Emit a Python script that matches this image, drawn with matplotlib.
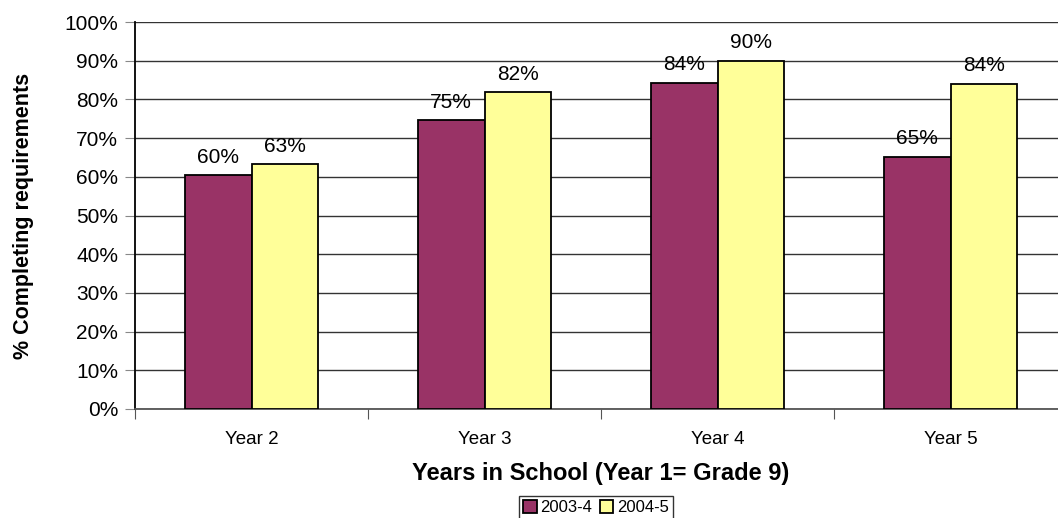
import numpy as np
import matplotlib
matplotlib.use("Agg")
import matplotlib.pyplot as plt
from matplotlib.ticker import PercentFormatter

# values
years = ["Year 2", "Year 3", "Year 4", "Year 5"]
series_names = ["2003-4", "2004-5"]
vals_2003 = [60.5, 74.6, 84.3, 65.2]
vals_2004 = [63.3, 81.8, 90.0, 84.1]
labels_2003 = ["60%", "75%", "84%", "65%"]
labels_2004 = ["63%", "82%", "90%", "84%"]

plt.rcParams["font.family"] = ["Liberation Sans", "DejaVu Sans"]

fig = plt.figure(figsize=(10.58, 5.18), dpi=100)
# axes runs a little past the right edge, as in the source image
ax = fig.add_axes([135 / 1058, 109 / 518, 932 / 1058, 387 / 518])

x = np.arange(len(years))
w = 0.2875
b1 = ax.bar(x - w / 2, vals_2003, w, color="#993366", edgecolor="black",
            linewidth=1.3, label=series_names[0], zorder=3)
b2 = ax.bar(x + w / 2, vals_2004, w, color="#FFFF99", edgecolor="black",
            linewidth=1.3, label=series_names[1], zorder=3)

for bars, labs in ((b1, labels_2003), (b2, labels_2004)):
    for rect, lab in zip(bars, labs):
        ax.annotate(lab, (rect.get_x() + rect.get_width() / 2, rect.get_height()),
                    xytext=(0, 6), textcoords="offset points",
                    ha="center", va="bottom", fontsize=15, zorder=4)

ax.set_xlim(-0.5, len(years) - 0.5)
ax.set_ylim(0, 100)
ax.set_yticks(np.arange(0, 101, 10))
ax.yaxis.set_major_formatter(PercentFormatter(decimals=0))
ax.yaxis.grid(True, color="#333333", linewidth=1.0, zorder=0)

# category ticks at group boundaries, labels at centres
ax.set_xticks(np.arange(-0.5, len(years), 1.0))
ax.set_xticklabels([])
ax.set_xticks(x, minor=True)
ax.set_xticklabels(years, minor=True, fontsize=13.5)
ax.tick_params(axis="x", which="minor", length=0, pad=16)
ax.tick_params(axis="x", which="major", length=7, color="#555555")
ax.tick_params(axis="y", length=7, color="#888888", labelsize=15, pad=5)

for s in ("top", "right"):
    ax.spines[s].set_visible(False)
ax.spines["left"].set_color("black")
ax.spines["left"].set_linewidth(1.3)
ax.spines["bottom"].set_color("#555555")
ax.spines["bottom"].set_linewidth(1.3)

ax.set_ylabel("% Completing requirements", fontsize=15.5, fontweight="bold", labelpad=22)
ax.set_xlabel("Years in School (Year 1= Grade 9)", fontsize=17, fontweight="bold", labelpad=10)

leg = ax.legend(loc="upper left", bbox_to_anchor=(519 / 1058, 22 / 518),
                bbox_transform=fig.transFigure, ncol=2, fontsize=12,
                frameon=True, fancybox=False, handlelength=0.8, handleheight=0.8,
                handletextpad=0.2, columnspacing=0.5, borderpad=0.25,
                borderaxespad=0)
leg.get_frame().set_edgecolor("black")
leg.get_frame().set_linewidth(1.0)

fig.savefig("out.png", dpi=100)
